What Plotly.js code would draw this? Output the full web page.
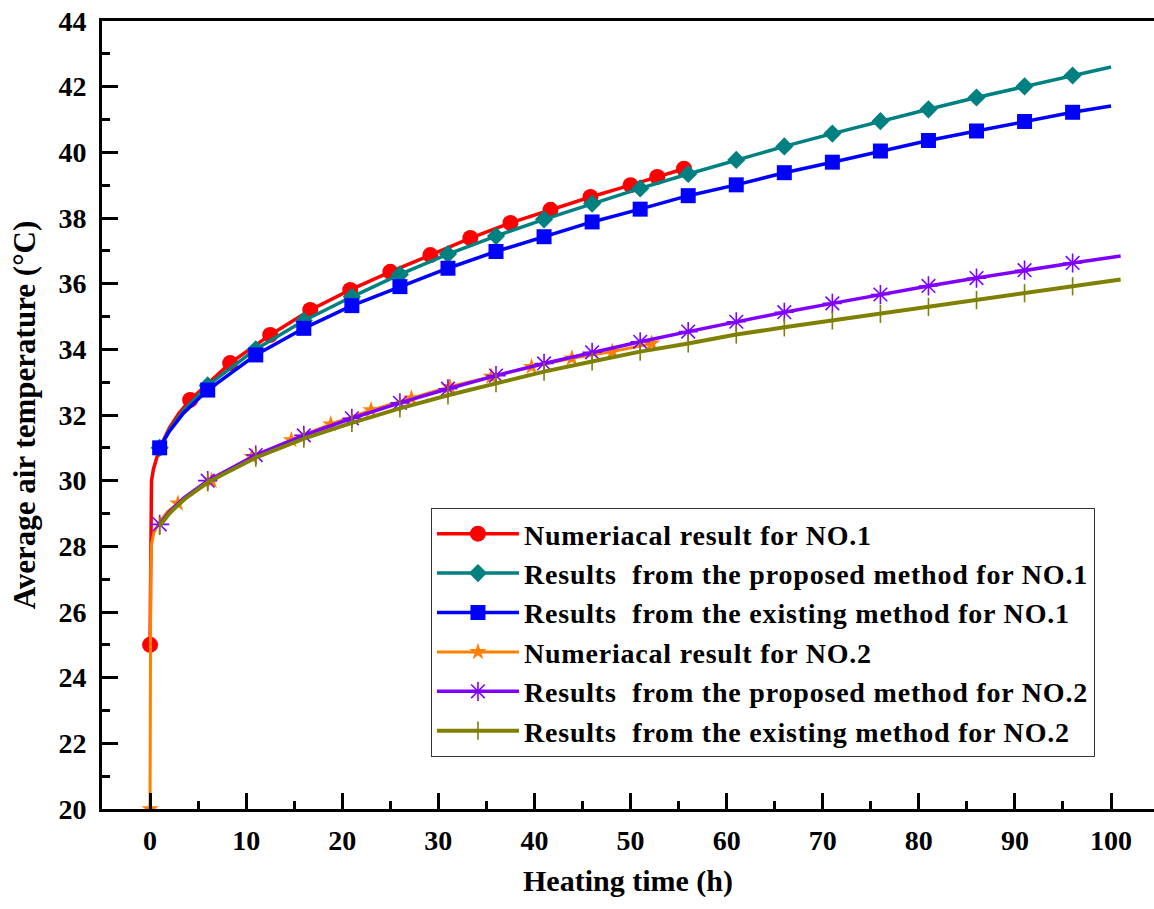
<!DOCTYPE html>
<html><head><meta charset="utf-8">
<script src="https://cdn.plot.ly/plotly-3.0.1.min.js"></script>
<style>
html,body{margin:0;padding:0;background:#fff}
.legendtext{letter-spacing:0.8px}
</style>
</head><body><div id="chart" style="width:1154px;height:909px"></div>
<script>
// ---- Series names ----
const seriesNames = [
  'Numeriacal result for NO.1',
  'Results\u00a0 from the proposed method for NO.1',
  'Results\u00a0 from the existing method for NO.1',
  'Numeriacal result for NO.2',
  'Results\u00a0 from the proposed method for NO.2',
  'Results\u00a0 from the existing method for NO.2'
];

// ---- Numerical result NO.1 (markers, plus curve points of the steep start) ----
const num1X = [0, 4.17, 8.33, 12.5, 16.67, 20.83, 25, 29.17, 33.33, 37.5, 41.67, 45.83, 50, 52.78, 55.56];
const num1Y = [25.0, 32.46, 33.58, 34.44, 35.2, 35.81, 36.36, 36.87, 37.39, 37.85, 38.25, 38.64, 39.0, 39.25, 39.5];
const num1CurveX = [0.03, 0.08, 0.15, 0.35, 0.7, 1.0, 2.0, 3.0];
const num1CurveY = [27.5, 29.3, 30.0, 30.35, 30.72, 31.0, 31.6, 32.05];

// ---- Proposed method NO.1 ----
const prop1X = [1, 6, 11, 16, 21, 26, 31, 36, 41, 46, 51, 56, 61, 66, 71, 76, 81, 86, 91, 96];
const prop1Y = [31.0, 32.9, 34.0, 34.87, 35.6, 36.28, 36.9, 37.45, 37.96, 38.44, 38.9, 39.34, 39.77, 40.18, 40.57, 40.95, 41.31, 41.67, 42.01, 42.34];
const prop1CurveX = [2, 3.5, 100];
const prop1CurveY = [31.54, 32.14, 42.6];

// ---- Existing method NO.1 ----
const exist1X = [1, 6, 11, 16, 21, 26, 31, 36, 41, 46, 51, 56, 61, 66, 71, 76, 81, 86, 91, 96];
const exist1Y = [31.0, 32.76, 33.83, 34.64, 35.33, 35.91, 36.47, 36.98, 37.43, 37.88, 38.27, 38.68, 39.01, 39.38, 39.7, 40.04, 40.36, 40.65, 40.94, 41.22];
const exist1CurveX = [2, 3.5, 100];
const exist1CurveY = [31.5, 32.06, 41.41];

// ---- Numerical result NO.2 ----
const num2X = [0, 2.9, 6.4, 10.6, 14.7, 18.8, 23.0, 27.2, 31.2, 35.5, 39.7, 43.9, 48.1, 52.2];
const num2Y = [20.0, 29.31, 30.0, 30.73, 31.24, 31.72, 32.15, 32.51, 32.86, 33.17, 33.47, 33.73, 33.93, 34.18];
const num2CurveX = [0.03, 0.07, 0.15, 0.4, 1.0, 1.8];
const num2CurveY = [25.0, 27.3, 28.05, 28.42, 28.75, 29.05];

// ---- Proposed method NO.2 ----
const prop2X = [1, 6, 11, 16, 21, 26, 31, 36, 41, 46, 51, 56, 61, 66, 71, 76, 81, 86, 91, 96];
const prop2Y = [28.67, 30.0, 30.78, 31.38, 31.9, 32.37, 32.8, 33.2, 33.57, 33.91, 34.23, 34.54, 34.84, 35.13, 35.4, 35.67, 35.93, 36.17, 36.41, 36.63];
const prop2CurveX = [2, 3.5, 101];
const prop2CurveY = [29.05, 29.47, 36.84];

// ---- Existing method NO.2 ----
const exist2X = [1, 6, 11, 16, 21, 26, 31, 36, 41, 46, 51, 56, 61, 66, 71, 76, 81, 86, 91, 96];
const exist2Y = [28.62, 29.95, 30.7, 31.28, 31.76, 32.2, 32.6, 32.97, 33.32, 33.63, 33.93, 34.18, 34.45, 34.67, 34.88, 35.08, 35.29, 35.5, 35.71, 35.92];
const exist2CurveX = [2, 3.5, 101];
const exist2CurveY = [29.0, 29.42, 36.13];

// ---- Axis ticks ----
const xTickVals = [0, 10, 20, 30, 40, 50, 60, 70, 80, 90, 100];
const yTickVals = [20, 22, 24, 26, 28, 30, 32, 34, 36, 38, 40, 42, 44];

// ---- Styles ----
const FONT = 'Liberation Serif, Times New Roman, serif';
const styles = [
  {color: '#FF0000', symbol: 'circle', size: 16, lw: 3.5},
  {color: '#008080', symbol: 'diamond', size: 14, lw: 3.5},
  {color: '#0000FF', symbol: 'square', size: 15, lw: 3.5},
  {color: '#FF8000', symbol: 'star', size: 13, lw: 3},
  {color: '#8000FF', symbol: 'asterisk-open', size: 16, lw: 3.5},
  {color: '#808000', symbol: 'line-ns-open', size: 13, lw: 4}
];
const data = [
  [num1X, num1Y, num1CurveX, num1CurveY],
  [prop1X, prop1Y, prop1CurveX, prop1CurveY],
  [exist1X, exist1Y, exist1CurveX, exist1CurveY],
  [num2X, num2Y, num2CurveX, num2CurveY],
  [prop2X, prop2Y, prop2CurveX, prop2CurveY],
  [exist2X, exist2Y, exist2CurveX, exist2CurveY]
];

function merge(mx, my, cx, cy) {
  const pts = mx.map((x, i) => [x, my[i]]).concat(cx.map((x, i) => [x, cy[i]]));
  pts.sort((a, b) => a[0] - b[0]);
  return [pts.map(p => p[0]), pts.map(p => p[1])];
}

function markerOf(s) {
  const open = s.symbol.endsWith('-open');
  return {
    symbol: s.symbol, size: s.size, color: s.color,
    line: {color: s.color, width: open ? 1.6 : 0}
  };
}

const traces = [];
data.forEach((d, i) => {
  const s = styles[i];
  const [lx, ly] = merge(d[0], d[1], d[2], d[3]);
  traces.push({x: lx, y: ly, mode: 'lines', line: {color: s.color, width: s.lw},
    showlegend: false, hoverinfo: 'skip', legendgroup: 'g' + i});
  traces.push({x: d[0], y: d[1], mode: 'markers', marker: markerOf(s),
    showlegend: false, legendgroup: 'g' + i});
});
data.forEach((d, i) => {
  const s = styles[i];
  traces.push({x: [null], y: [null], mode: 'lines+markers', name: seriesNames[i],
    line: {color: s.color, width: s.lw}, marker: markerOf(s), legendgroup: 'g' + i});
});

const axisCommon = {
  showgrid: false, zeroline: false, showline: true, linecolor: '#000', linewidth: 3,
  ticks: 'inside', ticklen: 16, tickwidth: 3, tickcolor: '#000',
  tickfont: {family: FONT, size: 28, color: '#000', weight: 'bold'}
};

const layout = {
  width: 1154, height: 909,
  margin: {l: 102, r: 0, t: 21, b: 100},
  paper_bgcolor: '#fff', plot_bgcolor: '#fff',
  showlegend: true,
  xaxis: Object.assign({}, axisCommon, {
    range: [-5, 104.47], tickmode: 'array', tickvals: xTickVals,
    mirror: true, ticklabelstandoff: 4,
    minor: {dtick: 5, tick0: 0, ticks: 'inside', ticklen: 8, tickwidth: 3, tickcolor: '#000'},
    title: {text: 'Heating time (h)', font: {family: FONT, size: 30, color: '#000', weight: 'bold'}, standoff: 16}
  }),
  yaxis: Object.assign({}, axisCommon, {
    range: [20, 44], tickmode: 'array', tickvals: yTickVals,
    mirror: false, ticklabelstandoff: 7,
    minor: {dtick: 1, tick0: 20, ticks: 'inside', ticklen: 8, tickwidth: 3, tickcolor: '#000'},
    title: {text: 'Average air temperature (°C)', font: {family: FONT, size: 31, color: '#000', weight: 'bold'}, standoff: 14}
  }),
  legend: {
    x: 0.3127, y: 0.382, xanchor: 'left', yanchor: 'top',
    bgcolor: '#fff', bordercolor: '#333', borderwidth: 1,
    font: {family: FONT, size: 28, color: '#000', weight: 'bold'},
    itemwidth: 82, traceorder: 'normal'
  }
};

Plotly.newPlot('chart', traces, layout, {displayModeBar: false, staticPlot: true});
</script>
</body></html>
